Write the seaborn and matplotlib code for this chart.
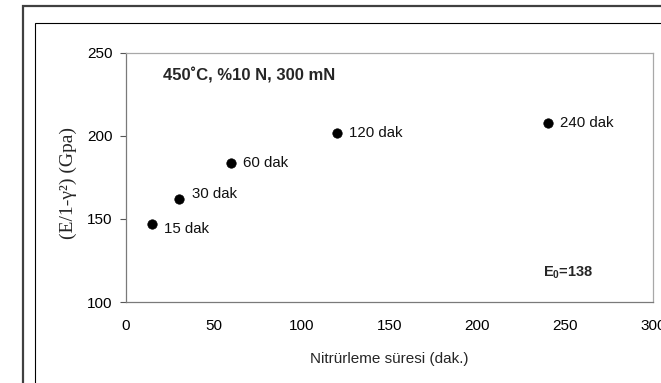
import matplotlib
matplotlib.use("Agg")
import matplotlib.pyplot as plt
from matplotlib.patches import Rectangle
import pandas as pd
import seaborn as sns

# Nitriding time (min) and reduced modulus E/(1-v^2) (GPa)
sure = [15, 30, 60, 120, 240]
modul = [147, 162, 184, 202, 208]
etiketler = ["15 dak", "30 dak", "60 dak", "120 dak", "240 dak"]
x_ticks = [0, 50, 100, 150, 200, 250, 300]
y_ticks = [100, 150, 200, 250]
e0 = 138

sns.set_theme(style="white")
plt.rcParams["font.family"] = ["Liberation Sans", "DejaVu Sans"]
plt.rcParams["mathtext.fontset"] = "custom"
plt.rcParams["mathtext.rm"] = "Liberation Sans"
plt.rcParams["mathtext.bf"] = "Liberation Sans:bold"

W, H = 661, 383
fig = plt.figure(figsize=(W / 100, H / 100), dpi=100)
fig.patch.set_facecolor("white")

# chart frames
fig.add_artist(Rectangle((23 / W, -0.1), 2.0, 1.1 - 5.5 / H, transform=fig.transFigure,
                         fill=False, edgecolor="#404040", linewidth=1.6))
fig.add_artist(Rectangle((34.5 / W, -0.1), 2.0, 1.1 - 23 / H, transform=fig.transFigure,
                         fill=False, edgecolor="black", linewidth=0.8))

ax = fig.add_axes([126 / W, 81 / H, 527 / W, 249 / H])
df = pd.DataFrame({"sure": sure, "modul": modul})
sns.scatterplot(data=df, x="sure", y="modul", ax=ax, color="black", s=46,
                edgecolor="black", linewidth=0.5, zorder=3)

offsets = [(8.6, -3.8), (9.4, 3.6), (8.0, 0), (8.6, 0), (9.2, 0)]
for xv, yv, lab, off in zip(sure, modul, etiketler, offsets):
    ax.annotate(lab, (xv, yv), xytext=off, textcoords="offset points",
                ha="left", va="center", fontsize=10.8, color="#111111")

ax.set_xlim(x_ticks[0], x_ticks[-1])
ax.set_ylim(y_ticks[0], y_ticks[-1])
ax.set_xticks(x_ticks)
ax.set_yticks(y_ticks)
ax.tick_params(axis="x", length=0, pad=12, labelsize=11, colors="black")
ax.tick_params(axis="y", length=4, width=0.8, direction="out", pad=5.5,
               labelsize=11, colors="black", left=True)
ax.tick_params(axis="y", color="#555555")

for side in ["left", "bottom"]:
    ax.spines[side].set_color("#7a7a7a")
    ax.spines[side].set_linewidth(0.9)
for side in ["top", "right"]:
    ax.spines[side].set_color("#a8a8a8")
    ax.spines[side].set_linewidth(0.9)

ax.set_xlabel("Nitrürleme süresi (dak.)", fontsize=11, labelpad=14)
ax.set_ylabel("(E/1-γ²) (Gpa)", fontsize=14, family=["Liberation Serif", "DejaVu Serif"])
ax.yaxis.set_label_coords(-0.093, 0.478)

ax.text(21, 236.7, "450˚C, %10 N, 300 mN", fontsize=12, fontweight="bold",
        ha="left", va="center")
ax.text(237.2, 117.5, r"$\mathbf{E_0}$=" + str(e0), fontsize=10.5, fontweight="bold",
        ha="left", va="center")

fig.savefig("out.png", dpi=100)
